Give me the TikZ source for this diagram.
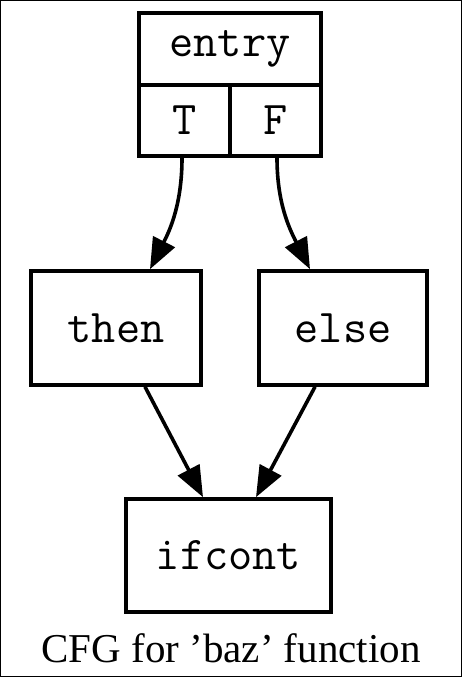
\documentclass[tikz,border=0pt]{standalone}
\usepackage{fontspec}
\setmainfont{Liberation Serif}
\usetikzlibrary{arrows.meta,calc}
\begin{document}
\begin{tikzpicture}[x=1pt,y=-1pt,
  blk/.style={draw,line width=3.6pt,rectangle,inner sep=0pt,font=\ttfamily\fontsize{47}{47}\selectfont},
  edge/.style={line width=3.6pt,-{Triangle[length=31pt,width=24pt]}}]
\useasboundingbox (0,0) rectangle (462,677);
\draw[line width=1pt] (0.5,0.5) rectangle (461.5,676.5);
% entry record
\node[blk,minimum width=182pt,minimum height=72pt] (entry) at (230,49) {entry};
\node[blk,minimum width=91pt,minimum height=71pt] (T) at (184.5,120.5) {T};
\node[blk,minimum width=91pt,minimum height=71pt] (F) at (275.5,120.5) {F};
% blocks
\node[blk,minimum width=170pt,minimum height=114pt] (then) at (116,328) {then};
\node[blk,minimum width=168pt,minimum height=114pt] (else) at (343,328) {else};
\node[blk,minimum width=205pt,minimum height=113pt] (ifcont) at (228.5,555.5) {ifcont};
% edges
\draw[edge] ($(T.south)+(-2.5,0)$) to[out=-90,in=63] ($(then.north)+(34,0)$);
\draw[edge] ($(F.south)+(1.5,0)$) to[out=-90,in=117] ($(else.north)+(-33,0)$);
\draw[edge] ($(then.south)+(29,0)$) -- ($(ifcont.north)+(-25.5,0)$);
\draw[edge] ($(else.south)+(-28,0)$) -- ($(ifcont.north)+(27.5,0)$);
% label
\node[anchor=base,inner sep=0pt,font=\fontsize{41}{41}\selectfont] (lbl) at (231,662) {CFG for ’baz’ function};
\end{tikzpicture}
\end{document}
